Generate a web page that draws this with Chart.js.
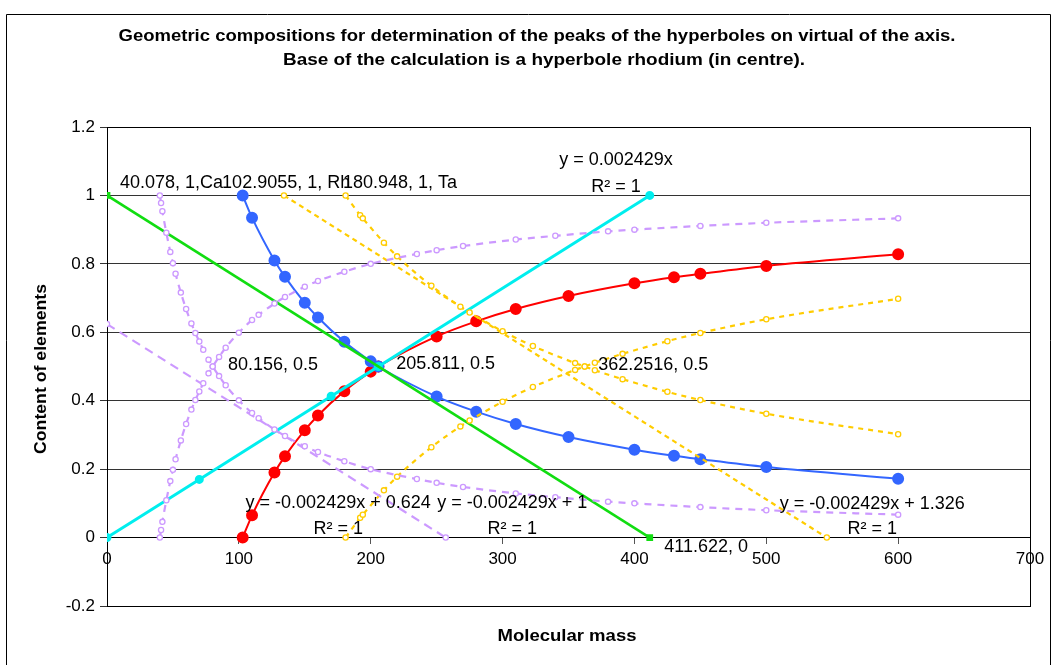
<!DOCTYPE html>
<html>
<head>
<meta charset="utf-8">
<script src="https://cdn.jsdelivr.net/npm/chart.js@4.4.0/dist/chart.umd.min.js"></script>
<style>
  html, body { margin: 0; padding: 0; background: #fff; }
</style>
</head>
<body>
<canvas id="chart" width="1056" height="665"></canvas>
<script>
// axis ticks
const xTicks = [0, 100, 200, 300, 400, 500, 600, 700];
const yTicks = [-0.2, 0, 0.2, 0.4, 0.6, 0.8, 1, 1.2];

// rhodium hyperbole (base, in centre)
const rhX    = [102.9055, 110, 127, 135, 150, 160, 180, 200, 205.811, 250, 280, 310, 350, 400, 430, 450, 500, 600];
const rhDown = [1, 0.935, 0.81, 0.762, 0.686, 0.643, 0.572, 0.515, 0.5, 0.412, 0.368, 0.332, 0.294, 0.257, 0.239, 0.229, 0.206, 0.172];
const rhUp   = [0, 0.065, 0.19, 0.238, 0.314, 0.357, 0.428, 0.485, 0.5, 0.588, 0.632, 0.668, 0.706, 0.743, 0.761, 0.771, 0.794, 0.828];

// calcium hyperbole
const caX    = [40.078, 41, 42, 45, 48, 50, 52, 56, 60, 64, 67, 70, 73, 77, 80.156, 85, 90, 100, 110, 115, 127, 135, 150, 160, 180, 200, 235, 250, 270, 310, 340, 380, 400, 450, 500, 600];
const caDown = [1, 0.978, 0.954, 0.891, 0.835, 0.802, 0.771, 0.716, 0.668, 0.626, 0.598, 0.573, 0.549, 0.520, 0.5, 0.472, 0.445, 0.401, 0.364, 0.349, 0.316, 0.297, 0.267, 0.250, 0.223, 0.200, 0.171, 0.160, 0.148, 0.129, 0.118, 0.105, 0.100, 0.089, 0.080, 0.067];
const caUp   = [0, 0.022, 0.046, 0.109, 0.165, 0.198, 0.229, 0.284, 0.332, 0.374, 0.402, 0.427, 0.451, 0.480, 0.5, 0.528, 0.555, 0.599, 0.636, 0.651, 0.684, 0.703, 0.733, 0.750, 0.777, 0.800, 0.829, 0.840, 0.852, 0.871, 0.882, 0.895, 0.900, 0.911, 0.920, 0.933];

// tantalum hyperbole
const taX    = [180.948, 192, 194, 210, 220, 246, 268, 275, 300, 323, 355, 362.25, 370, 391, 425, 450, 500, 600];
const taDown = [1, 0.942, 0.933, 0.862, 0.822, 0.736, 0.675, 0.658, 0.603, 0.560, 0.510, 0.5, 0.489, 0.463, 0.426, 0.402, 0.362, 0.302];
const taUp   = [0, 0.058, 0.067, 0.138, 0.178, 0.264, 0.325, 0.342, 0.397, 0.440, 0.490, 0.5, 0.511, 0.537, 0.574, 0.598, 0.638, 0.698];

// straight construction lines
const cyanX   = [0, 70, 170, 205.811, 411.622];
const cyanY   = [0, 0.17, 0.413, 0.5, 1];
const greenX  = [0, 411.622];
const greenY  = [1, 0];
const caLineX = [0, 256.9];
const caLineY = [0.624, 0];
const taLineX = [134.2, 545.9];
const taLineY = [1, 0];
const centreX = [205.811];
const centreY = [0.5];

const pts = (xs, ys) => xs.map((x, i) => ({ x: x, y: ys[i] }));

const FONT = '"Liberation Sans", Arial, sans-serif';
const PURPLE = '#cc99ff';
const GOLD = '#ffcc00';

function dashed(data, color, dash) {
  return {
    data: data,
    showLine: true,
    borderColor: color,
    borderWidth: 2.2,
    borderDash: dash,
    pointRadius: 2.6,
    pointBorderWidth: 1.3,
    pointBorderColor: color,
    pointBackgroundColor: '#ffffff',
    cubicInterpolationMode: 'monotone'
  };
}

function solid(data, color, width, radius, style) {
  return {
    data: data,
    showLine: true,
    borderColor: color,
    borderWidth: width,
    pointRadius: radius,
    pointStyle: style || 'circle',
    pointBorderColor: color,
    pointBackgroundColor: color,
    cubicInterpolationMode: 'monotone'
  };
}

// text helper: squeeze / stretch to a given width
function fitText(ctx, text, cx, cy, w, font, rot) {
  ctx.save();
  ctx.font = font;
  const m = ctx.measureText(text).width;
  ctx.translate(cx, cy);
  if (rot) ctx.rotate(rot);
  ctx.scale(w / m, 1);
  ctx.textAlign = 'center';
  ctx.textBaseline = 'middle';
  ctx.fillStyle = '#000';
  ctx.fillText(text, 0, 0);
  ctx.restore();
}

// point labels and trendline equations, placed in data units
const pointLabels = [
  ['40.078, 1,Ca', 9.9, 1.035],
  ['102.9055, 1, Rh', 87.3, 1.035],
  ['180.948, 1, Ta', 179, 1.035],
  ['80.156, 0.5', 91.8, 0.503],
  ['205.811, 0.5', 219.3, 0.508],
  ['362.2516, 0.5', 372.5, 0.503],
  ['411.622, 0', 422.6, -0.029]
];
const trendLabels = [
  ['y = 0.002429x', 386, 1.102, 1.026],
  ['y = -0.002429x + 0.624', 175.3, 0.102, 0.026],
  ['y = -0.002429x + 1', 307.3, 0.102, 0.026],
  ['y = -0.002429x + 1.326', 580.4, 0.099, 0.026]
];

const extras = {
  id: 'extras',
  beforeDatasetsDraw(chart) {
    const ctx = chart.ctx, a = chart.chartArea;
    ctx.save();
    ctx.strokeStyle = '#000';
    ctx.lineWidth = 1;
    ctx.strokeRect(Math.round(a.left) + 0.5, Math.round(a.top) + 0.5, Math.round(a.right - a.left), Math.round(a.bottom - a.top));
    ctx.restore();
  },
  afterDraw(chart) {
    const ctx = chart.ctx;
    const sx = chart.scales.x, sy = chart.scales.y;
    ctx.save();
    // outer frame
    ctx.strokeStyle = '#000';
    ctx.lineWidth = 1;
    ctx.beginPath();
    ctx.moveTo(6.5, 700); ctx.lineTo(6.5, 14.5); ctx.lineTo(1050.5, 14.5); ctx.lineTo(1050.5, 700);
    ctx.stroke();

    fitText(ctx, 'Geometric compositions for determination of the peaks of the hyperboles on virtual of the axis.', 537, 37, 837, 'bold 16px ' + FONT);
    fitText(ctx, 'Base of the calculation is a hyperbole rhodium (in centre).', 544, 61, 522, 'bold 16px ' + FONT);
    fitText(ctx, 'Content of elements', 41, 369, 170, 'bold 17px ' + FONT, -Math.PI / 2);
    fitText(ctx, 'Molecular mass', 567, 636, 139, 'bold 17px ' + FONT);

    ctx.fillStyle = '#000';
    ctx.font = '18px ' + FONT;
    ctx.textBaseline = 'middle';
    ctx.textAlign = 'left';
    pointLabels.forEach(l => {
      ctx.fillText(l[0], sx.getPixelForValue(l[1]), sy.getPixelForValue(l[2]));
    });
    ctx.textAlign = 'center';
    trendLabels.forEach(l => {
      const cx = sx.getPixelForValue(l[1]);
      ctx.fillText(l[0], cx, sy.getPixelForValue(l[2]));
      ctx.fillText('R\u00b2 = 1', cx, sy.getPixelForValue(l[3]));
    });
    ctx.restore();
  }
};

new Chart(document.getElementById('chart').getContext('2d'), {
  type: 'scatter',
  data: {
    datasets: [
      dashed(pts(caX, caDown), PURPLE, [7, 6]),
      dashed(pts(caX, caUp), PURPLE, [7, 6]),
      dashed(pts(caLineX, caLineY), PURPLE, [9, 6]),
      dashed(pts(taX, taDown), GOLD, [5, 5]),
      dashed(pts(taX, taUp), GOLD, [5, 5]),
      dashed(pts(taLineX, taLineY), GOLD, [5, 4]),
      solid(pts(greenX, greenY), '#11dd11', 2.5, 3, 'rect'),
      solid(pts(cyanX, cyanY), '#00eeee', 3, 3),
      solid(pts(rhX, rhDown), '#3366ff', 2, 5),
      solid(pts(rhX, rhUp), '#ff0000', 2, 5),
      {
        data: pts(centreX, centreY),
        showLine: false,
        pointRadius: 5,
        pointBorderWidth: 1.5,
        pointBorderColor: '#ff0000',
        pointBackgroundColor: '#00eeee'
      }
    ]
  },
  options: {
    responsive: false,
    animation: false,
    layout: { autoPadding: false, padding: { left: 0, top: 127, right: 26, bottom: 59 } },
    plugins: { legend: { display: false }, tooltip: { enabled: false }, title: { display: false } },
    scales: {
      x: {
        type: 'linear',
        position: { y: 0 },
        min: 0, max: 700,
        afterFit: s => { s.height = 0; },
        afterBuildTicks: s => { s.ticks = xTicks.map(v => ({ value: v })); },
        grid: { drawOnChartArea: false, drawTicks: true, tickLength: 6, color: '#555' },
        border: { color: '#000' },
        ticks: { color: '#000', font: { family: FONT, size: 17 }, padding: 6, maxRotation: 0 }
      },
      y: {
        type: 'linear',
        position: 'left',
        min: -0.2, max: 1.2,
        afterFit: s => { s.width = 107; },
        afterBuildTicks: s => { s.ticks = yTicks.map(v => ({ value: v })); },
        grid: { color: '#333', tickLength: 7, drawTicks: true },
        border: { color: '#888' },
        ticks: {
          color: '#000', font: { family: FONT, size: 17 }, padding: 5,
          callback: v => String(Number(v.toFixed(1)))
        }
      }
    }
  },
  plugins: [extras]
});
</script>
</body>
</html>
